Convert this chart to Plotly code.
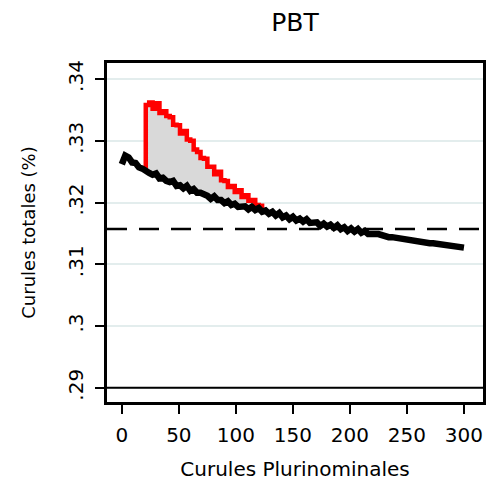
import plotly.graph_objects as go

# total seats share (black), step of 3 plurinominal seats
black_x = list(range(0, 301, 3))
black_y = [
    .3262, .3276, .3273, .3265, .3264, .3257, .3255, .3250, .3248, .3245,
    .3247, .3239, .3240, .3235, .3233, .3235, .3227, .3228, .3223, .3227,
    .3219, .3222, .3216, .3216, .3214, .3211, .3206, .3210, .3204, .3204,
    .3199, .3202, .3196, .3198, .3193, .3193, .3194, .3189, .3193, .3188,
    .3191, .3185, .3187, .3182, .3185, .3179, .3183, .3176, .3179, .3173,
    .3177, .3171, .3174, .3169, .3173, .3167, .3167, .3168, .3162, .3166,
    .3161, .3164, .3159, .3163, .3157, .3160, .3154, .3158, .3153, .3157,
    .3151, .3154, .3149, .3150, .3149, .3149, .3147, .3146, .3144, .3144,
    .3143, .3142, .3141, .3140, .3138, .3138, .3137, .3137, .3136, .3135,
    .3134, .3134, .3133, .3132, .3131, .3131, .3129, .3129, .3128, .3126,
    .3127,
]

# upper series (red), x = 21..123
red_x = list(range(21, 124, 3))
red_y = [
    .3358, .3362, .3352, .3361, .3345, .3348, .3340, .3338, .3326, .3325,
    .3312, .3316, .3302, .3300, .3286, .3282, .3272, .3271, .3258, .3258,
    .3246, .3250, .3236, .3235, .3225, .3227, .3217, .3220, .3209, .3212,
    .3203, .3204, .3196, .3195, .3190,
]

ref_line = .3157
y_ticks = [.29, .30, .31, .32, .33, .34]
y_labels = [".29", ".3", ".31", ".32", ".33", ".34"]
x_ticks = [0, 50, 100, 150, 200, 250, 300]

i0 = black_x.index(red_x[0])
lower_y = black_y[i0:i0 + len(red_x)]

fig = go.Figure()

fig.add_trace(go.Scatter(x=red_x, y=lower_y, mode='lines',
                         line=dict(color='rgba(0,0,0,0)', width=0),
                         showlegend=False, hoverinfo='skip'))
fig.add_trace(go.Scatter(x=[red_x[0]] + red_x, y=[lower_y[0]] + red_y,
                         mode='lines', fill='tonexty', fillcolor='#d9d9d9',
                         line=dict(color='#ff0000', width=4.5, shape='hv'),
                         showlegend=False))
fig.add_trace(go.Scatter(x=black_x, y=black_y, mode='lines',
                         line=dict(color='black', width=6.5),
                         showlegend=False))

# reference lines
fig.add_shape(type='line', xref='paper', x0=0, x1=1, y0=ref_line, y1=ref_line,
              line=dict(color='black', width=2.5, dash='20px,12px'), layer='below')
fig.add_shape(type='line', xref='paper', x0=0, x1=1, y0=.29, y1=.29,
              line=dict(color='black', width=2))

tick_font = dict(family='DejaVu Sans', size=20, color='black')

fig.update_layout(
    width=491, height=490,
    margin=dict(l=107, r=8, t=63, b=88),
    plot_bgcolor='white', paper_bgcolor='white',
    title=dict(text='PBT', xref='paper', x=0.5, xanchor='center', y=0.955, yanchor='middle',
               font=dict(family='DejaVu Sans', size=25, color='black')),
    font=tick_font,
    showlegend=False,
)
fig.update_xaxes(range=[-13, 316.7], tickvals=x_ticks, showgrid=False, zeroline=False,
                 showline=True, mirror=True, linewidth=3, linecolor='black',
                 ticks='outside', ticklen=9, tickwidth=2, tickcolor='black',
                 ticklabelstandoff=4, tickfont=tick_font, automargin=False,
                 title=dict(text='Curules Plurinominales', standoff=16,
                            font=dict(family='DejaVu Sans', size=20, color='black')))
fig.update_yaxes(range=[.2877, .3426], tickvals=y_ticks, ticktext=y_labels, tickangle=-90,
                 showgrid=True, gridcolor='#e3eded', gridwidth=2, zeroline=False,
                 showline=True, mirror=True, linewidth=3, linecolor='black',
                 ticks='outside', ticklen=9, tickwidth=2, tickcolor='black',
                 ticklabelstandoff=4, tickfont=tick_font, automargin=False,
                 title=dict(text='Curules totales (%)', standoff=24,
                            font=dict(family='DejaVu Sans', size=18, color='black')))

fig.write_html("out.html", config={'displayModeBar': False},
               post_script="document.body.style.margin='0';")
